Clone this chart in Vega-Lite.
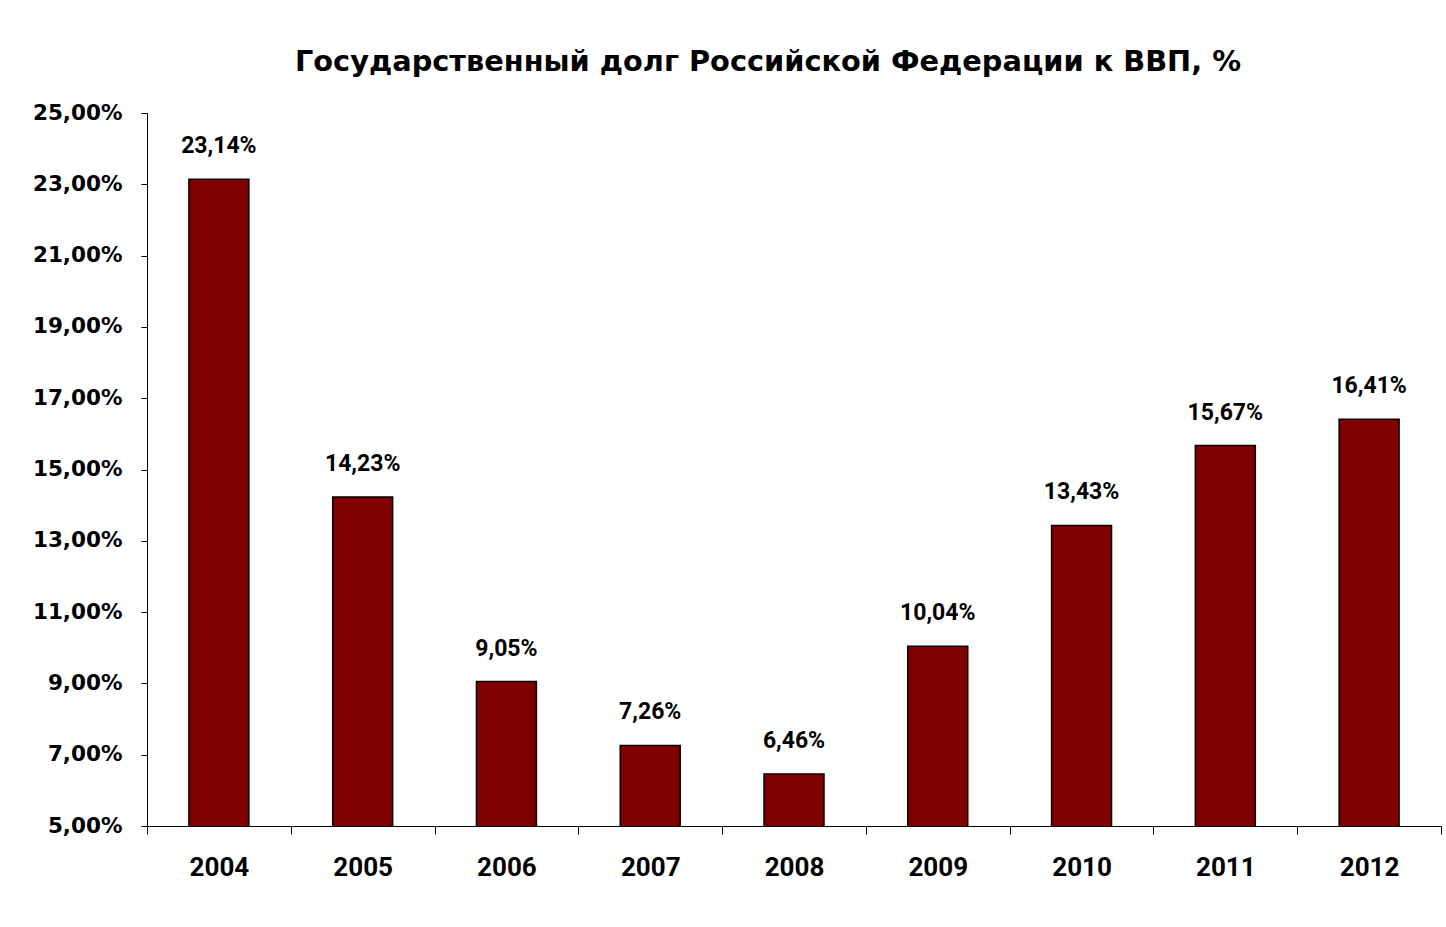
{
  "$schema": "https://vega.github.io/schema/vega-lite/v6.json",
  "autosize": "none",
  "width": 1294,
  "height": 713,
  "padding": {"left": 147, "top": 113, "right": 5, "bottom": 101},
  "background": "white",
  "config": {
    "view": {"stroke": null},
    "locale": {"number": {"decimal": ",", "thousands": " ", "grouping": [3], "currency": ["", "%"]}}
  },
  "title": {
    "text": "Государственный долг Российской Федерации к ВВП, %",
    "font": "DejaVu Sans",
    "fontSize": 28.8,
    "fontWeight": "bold",
    "color": "#000000",
    "anchor": "middle",
    "baseline": "alphabetic",
    "offset": 2,
    "dx": -26
  },
  "data": {
    "values": [
      {"year": "2004", "value": 23.14},
      {"year": "2005", "value": 14.23},
      {"year": "2006", "value": 9.05},
      {"year": "2007", "value": 7.26},
      {"year": "2008", "value": 6.46},
      {"year": "2009", "value": 10.04},
      {"year": "2010", "value": 13.43},
      {"year": "2011", "value": 15.67},
      {"year": "2012", "value": 16.41}
    ]
  },
  "encoding": {
    "x": {
      "field": "year",
      "type": "ordinal",
      "scale": {"paddingInner": 0, "paddingOuter": 0},
      "axis": {
        "title": null,
        "labelAngle": 0,
        "tickBand": "extent",
        "tickSize": 8,
        "tickColor": "#000000",
        "domainColor": "#000000",
        "labelFont": "Roboto",
        "labelFontWeight": "bold",
        "labelFontSize": 26,
        "labelColor": "#000000",
        "labelPadding": 20
      }
    },
    "y": {
      "field": "value",
      "type": "quantitative",
      "scale": {"domain": [5, 25], "nice": false, "zero": false},
      "axis": {
        "title": null,
        "values": [5, 7, 9, 11, 13, 15, 17, 19, 21, 23, 25],
        "format": "$.2f",
        "grid": false,
        "tickSize": 6,
        "tickColor": "#000000",
        "domainColor": "#000000",
        "labelFont": "DejaVu Sans",
        "labelFontWeight": "bold",
        "labelFontSize": 21.5,
        "labelColor": "#000000",
        "labelPadding": 19
      }
    }
  },
  "layer": [
    {
      "mark": {"type": "bar", "clip": true, "width": {"band": 0.417}, "fill": "#800000", "stroke": "#000000", "strokeWidth": 1.5}
    },
    {
      "mark": {"type": "text", "baseline": "alphabetic", "dy": -26, "font": "Roboto", "fontWeight": "bold", "fontSize": 23, "color": "#000000"},
      "encoding": {"text": {"field": "value", "type": "quantitative", "format": "$.2f"}}
    }
  ]
}
